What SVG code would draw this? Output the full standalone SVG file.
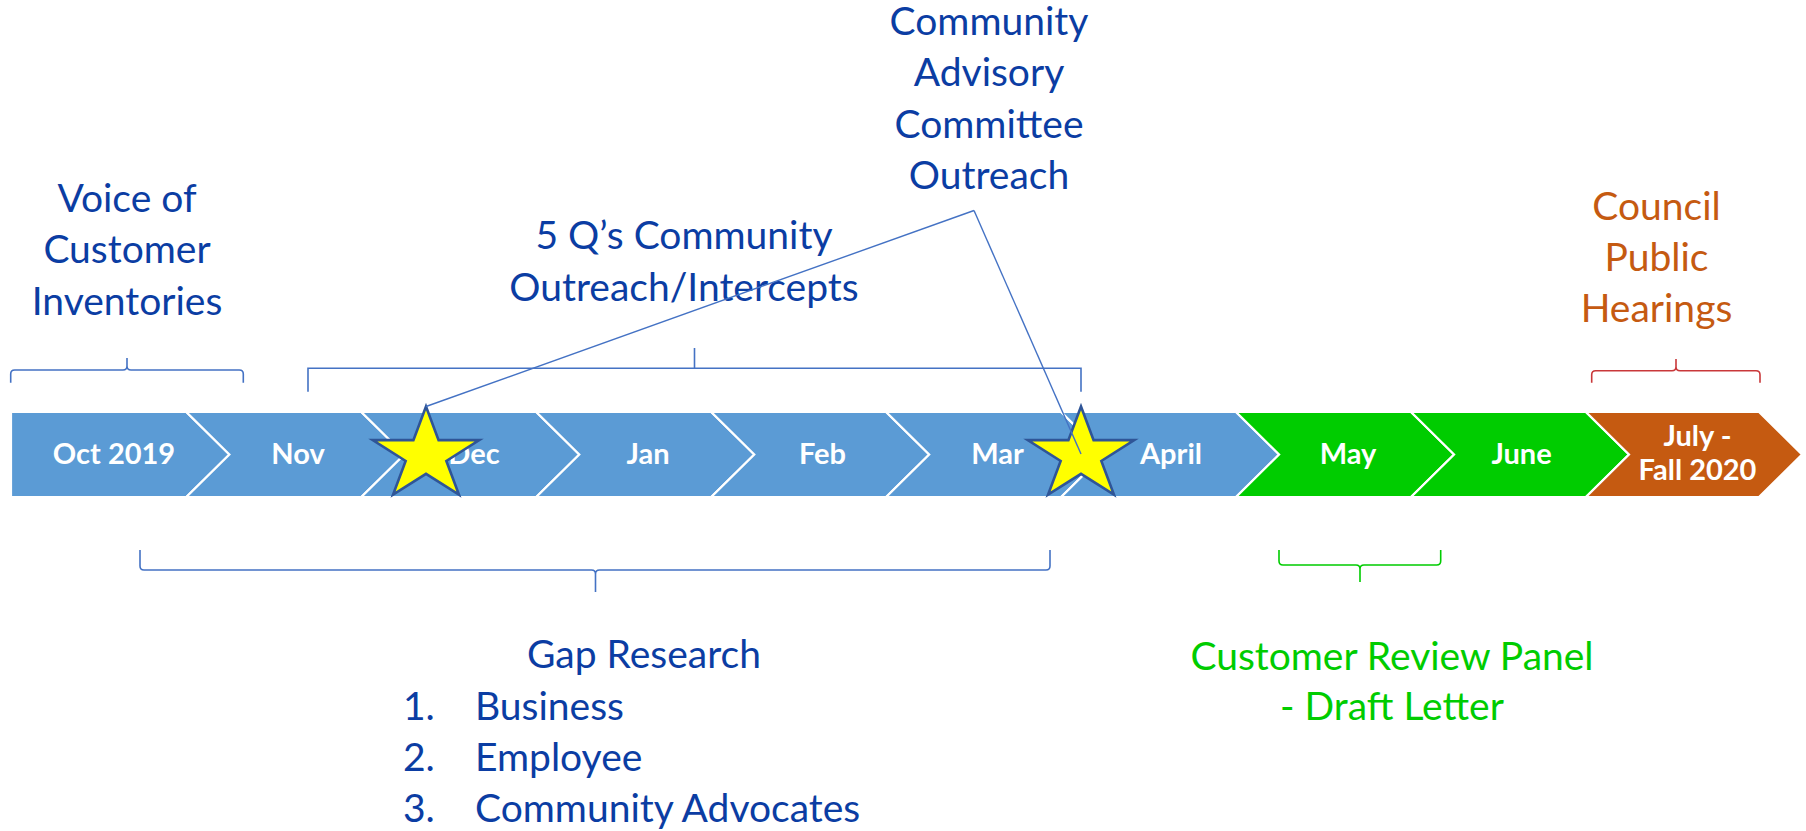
<svg xmlns="http://www.w3.org/2000/svg" xmlns:xlink="http://www.w3.org/1999/xlink" width="1806" height="831" viewBox="0 0 1806 831">
<style>
.chev{stroke:#FFFFFF;stroke-width:2.2;stroke-linejoin:miter}
.blue{fill:#5B9BD5}
.green{fill:#00CC00}
.orange{fill:#C55A11}
.ct{font-family:Lato,"Liberation Sans",sans-serif;font-weight:bold;font-size:29px;fill:#FFFFFF;text-anchor:middle}
.lbl{font-family:Lato,"Liberation Sans",sans-serif;font-size:39px;text-anchor:middle}
.lst{font-family:Lato,"Liberation Sans",sans-serif;font-size:39px}
.tb{fill:#0B3DA3}
.tg{fill:#00CC00}
.to{fill:#C55A11}
.br{fill:none;stroke-width:1.6}
.star{fill:#FFFF00;stroke:#2F5597;stroke-width:2.6;stroke-linejoin:miter}
.conn{fill:none;stroke:#4472C4;stroke-width:1.4}
</style>
<defs>
<path id="star5" d="M0,-48.7 L12.58,-15.05 L53.26,-15.05 L20.35,5.75 L32.92,39.4 L0,18.6 L-32.92,39.4 L-20.35,5.75 L-53.26,-15.05 L-12.58,-15.05 Z"/>
</defs>
<rect width="1806" height="831" fill="#FFFFFF"/>

<g id="timeline">
<path id="chev-oct" class="chev blue" d="M11,412 L186.4,412 L229.4,454.5 L186.4,497 L11,497 Z"/>
<path id="chev-nov" class="chev blue" d="M186.4,412 L361.4,412 L404.4,454.5 L361.4,497 L186.4,497 L229.4,454.5 Z"/>
<path id="chev-dec" class="chev blue" d="M361.4,412 L536.3,412 L579.3,454.5 L536.3,497 L361.4,497 L404.4,454.5 Z"/>
<path id="chev-jan" class="chev blue" d="M536.3,412 L711.3,412 L754.3,454.5 L711.3,497 L536.3,497 L579.3,454.5 Z"/>
<path id="chev-feb" class="chev blue" d="M711.3,412 L886.2,412 L929.2,454.5 L886.2,497 L711.3,497 L754.3,454.5 Z"/>
<path id="chev-mar" class="chev blue" d="M886.2,412 L1061.2,412 L1104.2,454.5 L1061.2,497 L886.2,497 L929.2,454.5 Z"/>
<path id="chev-apr" class="chev blue" d="M1061.2,412 L1236.1,412 L1279.1,454.5 L1236.1,497 L1061.2,497 L1104.2,454.5 Z"/>
<path id="chev-may" class="chev green" d="M1236.1,412 L1411.1,412 L1454.1,454.5 L1411.1,497 L1236.1,497 L1279.1,454.5 Z"/>
<path id="chev-jun" class="chev green" d="M1411.1,412 L1586,412 L1629,454.5 L1586,497 L1411.1,497 L1454.1,454.5 Z"/>
<path id="chev-jul" class="chev orange" d="M1586,412 L1759,412 L1802,454.5 L1759,497 L1586,497 L1629,454.5 Z"/>
<text class="ct" x="114" y="464">Oct 2019</text>
<text class="ct" x="298" y="464">Nov</text>
<text class="ct" x="474" y="464">Dec</text>
<text class="ct" x="648" y="464">Jan</text>
<text class="ct" x="822.5" y="464">Feb</text>
<text class="ct" x="997.5" y="464">Mar</text>
<text class="ct" x="1171" y="464">April</text>
<text class="ct" x="1348" y="464">May</text>
<text class="ct" x="1521.5" y="464">June</text>
<text class="ct" x="1697.5" y="446">July -</text>
<text class="ct" x="1697.5" y="480">Fall 2020</text>
</g>

<g id="star-dec"><use href="#star5" xlink:href="#star5" class="star" transform="translate(426,455.2)"/></g>
<g id="star-mar"><use href="#star5" xlink:href="#star5" class="star" transform="translate(1081,455.2)"/></g>

<g id="voice-of-customer">
<path class="br" stroke="#4472C4" d="M10.7,382.7 L10.7,374 Q10.7,370 14.7,370 L123,370 Q127,370 127,366 L127,358 L127,366 Q127,370 131,370 L239.3,370 Q243.3,370 243.3,374 L243.3,382.7"/>
<text class="lbl tb" x="127" y="211.7">Voice of</text>
<text class="lbl tb" x="127" y="263.3">Customer</text>
<text class="lbl tb" x="127" y="315">Inventories</text>
</g>

<g id="five-qs">
<path class="br" stroke="#4472C4" d="M308,391.7 L308,368.3 L1081,368.3 L1081,391.7 M694.5,368.3 L694.5,348"/>
<text class="lbl tb" x="684" y="249">5 Q’s Community</text>
<text class="lbl tb" x="684" y="300.7">Outreach/Intercepts</text>
</g>

<g id="advisory-committee">
<text class="lbl tb" x="989" y="35">Community</text>
<text class="lbl tb" x="989" y="86.3">Advisory</text>
<text class="lbl tb" x="989" y="137.7">Committee</text>
<text class="lbl tb" x="989" y="189">Outreach</text>
</g>

<g id="council">
<path class="br" stroke="#C9383A" d="M1591.7,382.7 L1591.7,374.7 Q1591.7,370.7 1595.7,370.7 L1672,370.7 Q1676,370.7 1676,366.7 L1676,359 L1676,366.7 Q1676,370.7 1680,370.7 L1756,370.7 Q1760,370.7 1760,374.7 L1760,382.7"/>
<text class="lbl to" x="1656.5" y="220">Council</text>
<text class="lbl to" x="1656.5" y="271">Public</text>
<text class="lbl to" x="1656.5" y="321.7">Hearings</text>
</g>

<g id="gap-research">
<path class="br" stroke="#4472C4" d="M140,550 L140,566 Q140,570 144,570 L591.5,570 Q595.5,570 595.5,574 L595.5,592 L595.5,574 Q595.5,570 599.5,570 L1046,570 Q1050,570 1050,566 L1050,550"/>
<text class="lbl tb" x="644" y="668.3">Gap Research</text>
<text class="lst tb" x="403" y="720">1.</text>
<text class="lst tb" x="475" y="720">Business</text>
<text class="lst tb" x="403" y="770.5">2.</text>
<text class="lst tb" x="475" y="770.5">Employee</text>
<text class="lst tb" x="403" y="821.7">3.</text>
<text class="lst tb" x="475" y="821.7">Community Advocates</text>
</g>

<g id="customer-review-panel">
<path class="br" stroke="#00CC00" d="M1279,550 L1279,561 Q1279,565 1283,565 L1356,565 Q1360,565 1360,569 L1360,582 L1360,569 Q1360,565 1364,565 L1436.7,565 Q1440.7,565 1440.7,561 L1440.7,550"/>
<text class="lbl tg" x="1392" y="670">Customer Review Panel</text>
<text class="lbl tg" x="1392" y="720">- Draft Letter</text>
</g>

<g id="connectors">
<path class="conn" d="M974,210.5 L426,406.5"/>
<path class="conn" d="M974,210.5 L1081,454"/>
</g>
</svg>
